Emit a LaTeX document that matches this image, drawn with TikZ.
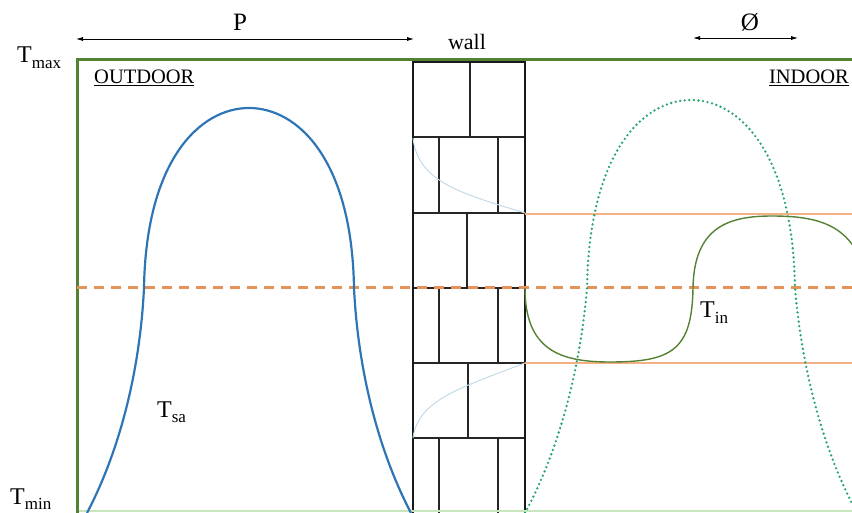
\documentclass[tikz,border=0pt]{standalone}
\usepackage{fontspec}
\setmainfont{Liberation Serif}
\usetikzlibrary{arrows.meta}
\definecolor{framegreen}{RGB}{84,130,53}
\definecolor{framelight}{RGB}{200,230,190}
\definecolor{curveblue}{RGB}{46,117,182}
\definecolor{dotgreen}{RGB}{40,165,110}
\definecolor{dashorange}{RGB}{228,148,88}
\definecolor{lineorange}{RGB}{244,177,131}
\definecolor{wallblue}{RGB}{195,218,232}
\newcommand\Tlab[1]{T\raisebox{-0.22em}{\fontsize{17}{17}\selectfont #1}}
\tikzset{
  lbl/.style={inner sep=0pt, font=\fontsize{24}{24}\selectfont},
  place/.style={inner sep=0pt, font=\fontsize{20.5}{20.5}\selectfont},
  frameline/.style={draw=framegreen, line width=3pt},
  brick/.style={draw=black!85, line width=1.1pt},
  wallside/.style={draw=black!90, line width=1.7pt},
  dimarrow/.style={draw=black, line width=0.8pt, {Latex[length=7pt,width=4pt]}-{Latex[length=7pt,width=4pt]}},
  mean/.style={draw=dashorange, line width=3pt, dash pattern=on 10pt off 7pt},
  bound/.style={draw=lineorange, line width=2pt},
  solair/.style={draw=curveblue, line width=2.2pt},
  indoor/.style={draw=framegreen, line width=1.4pt},
  dotted curve/.style={draw=dotgreen, line width=2.6pt, line cap=round, dash pattern=on 0pt off 4.6pt},
  gradient/.style={draw=wallblue, line width=1pt}
}
\begin{document}
\begin{tikzpicture}[x=1pt,y=-1pt]
\useasboundingbox (0,0) rectangle (852,513);
\clip (0,0) rectangle (852,513);
% wall bricks
\draw[brick] (413,137) -- (525,137) (413,213) -- (525,213) (413,288) -- (525,288)
  (413,363) -- (525,363) (413,438) -- (525,438);
\draw[brick] (470,62) -- (470,137) (439,137) -- (439,213) (498,137) -- (498,213)
  (467,213) -- (467,288) (439,288) -- (439,363) (498,288) -- (498,363)
  (468,363) -- (468,438) (439,438) -- (439,513) (498,438) -- (498,513);
\draw[wallside] (413,513) -- (413,62) -- (525,62) -- (525,513);
% gradient curves inside wall
\draw[gradient] (413,138) .. controls (418,182) and (460,193) .. (525,213);
\draw[gradient] (525,363) .. controls (460,388) and (418,400) .. (413,438);
% frame
\draw[draw=framelight, line width=2pt] (77,511) -- (852,511);
\draw[frameline] (77,513) -- (77,60) -- (852,60);
% bounds and mean
\draw[bound] (525,214) -- (852,214);
\draw[bound] (525,363) -- (852,363);
\draw[mean] (77,288) -- (852,288);
% sol-air temperature curve
\draw[solair] (87,513) .. controls (120,450) and (140,370) .. (144,288)
  .. controls (146,160) and (200,108) .. (249,108)
  .. controls (298,108) and (352,160) .. (354,288)
  .. controls (358,370) and (378,450) .. (411,513);
% dotted curve
\draw[dotted curve] (525,513) .. controls (559,450) and (580,370) .. (587,288)
  .. controls (589,154) and (642,100) .. (691,100)
  .. controls (740,100) and (793,154) .. (795,288)
  .. controls (802,370) and (823,450) .. (857,513);
% indoor temperature
\draw[indoor] (525,288) .. controls (525,350) and (560,362) .. (610,362)
  .. controls (672,362) and (692,350) .. (693,288)
  .. controls (694,226) and (730,216) .. (772,216)
  .. controls (815,216) and (840,224) .. (856,250);
% dimension arrows
\coordinate (pL) at (76,39);
\coordinate (pR) at (414,39);
\coordinate (fL) at (693,38);
\coordinate (fR) at (798,38);
\draw[dimarrow] (pL) -- (pR);
\draw[dimarrow] (fL) -- (fR);
% labels
\node[lbl, anchor=base, font=\fontsize{25}{25}\selectfont] (P) at (240,31) {P};
\node[lbl, anchor=base, font=\fontsize{25}{25}\selectfont] (phi) at (750,31) {Ø};
\node[lbl, anchor=base, font=\fontsize{22}{22}\selectfont] (wall) at (467,50) {wall};
\node[lbl, anchor=base west] (tmax) at (17,63) {\Tlab{max}};
\node[lbl, anchor=base west] (tmin) at (10,504) {\Tlab{min}};
\node[lbl, anchor=base west] (tsa) at (157,417) {\Tlab{sa}};
\node[lbl, anchor=base west] (tin) at (700,318) {\Tlab{in}};
\node[place, anchor=base west] (out) at (94,84) {\underline{OUTDOOR}};
\node[place, anchor=base east] (in) at (849,84) {\underline{INDOOR}};
\end{tikzpicture}
\end{document}
